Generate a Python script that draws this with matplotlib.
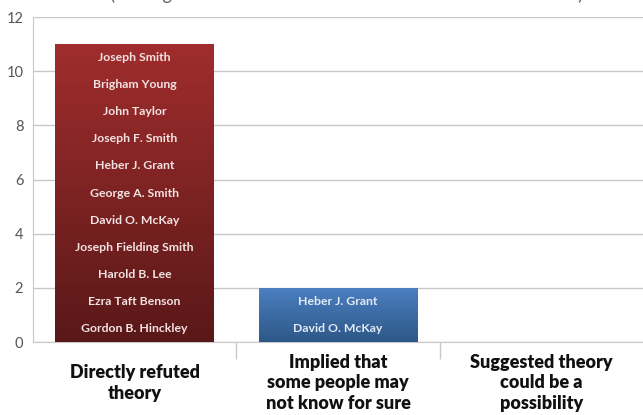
import matplotlib
matplotlib.use("Agg")
import matplotlib.pyplot as plt
import numpy as np
from matplotlib.colors import LinearSegmentedColormap

categories = ["Directly refuted\ntheory",
              "Implied that\nsome people may\nnot know for sure",
              "Suggested theory\ncould be a\npossibility"]
counts = [11, 2, 0]
names = [
    ["Joseph Smith", "Brigham Young", "John Taylor", "Joseph F. Smith",
     "Heber J. Grant", "George A. Smith", "David O. McKay",
     "Joseph Fielding Smith", "Harold B. Lee", "Ezra Taft Benson",
     "Gordon B. Hinckley"],
    ["Heber J. Grant", "David O. McKay"],
    [],
]
yticks = [0, 2, 4, 6, 8, 10, 12]
title = "(on Organic Evolution as it relates to the Creation of Man)"

grad_colors = [("#5a1818", "#a02d2d"), ("#2d5787", "#4c80c2"), ("#888888", "#aaaaaa")]
text_colors = ["#f3e2e2", "#e3ebf6", "#ffffff"]

plt.rcParams['font.family'] = ['Lato', 'DejaVu Sans']

fig = plt.figure(figsize=(6.43, 4.15), dpi=100)
ax = fig.add_axes([33/643, 73/415, 610/643, 325/415])

x = np.arange(len(categories))
width = 0.78
bars = ax.bar(x, counts, width=width, color="none", edgecolor="none", zorder=3)

for i, (b, c) in enumerate(zip(bars, counts)):
    if c <= 0:
        continue
    cmap = LinearSegmentedColormap.from_list("g%d" % i, list(grad_colors[i]))
    grad = np.linspace(0, 1, 256).reshape(-1, 1)
    x0 = b.get_x()
    im = ax.imshow(grad, extent=[x0, x0 + b.get_width(), 0, c], origin="lower",
                   cmap=cmap, aspect="auto", zorder=3)
    im.set_clip_path(b)
    lst = names[i]
    n = len(lst)
    for k, nm in enumerate(lst):
        ax.text(x[i], n - k - 0.5, nm, ha="center", va="center",
                fontsize=8.8, fontweight="bold", color=text_colors[i], zorder=4)

ax.set_xlim(-0.5, len(categories) - 0.5)
ax.set_ylim(0, 12)
ax.set_yticks(yticks)
ax.set_yticklabels([str(t) for t in yticks])
ax.tick_params(axis="y", length=0, pad=7, labelsize=10.5, labelcolor="#555555")
ax.yaxis.grid(True, color="#c8c8c8", linewidth=1.0, zorder=0)
ax.set_axisbelow(True)

ax.set_xticks(x)
ax.set_xticklabels(categories, fontsize=13, fontweight="heavy", color="#111111",
                   linespacing=1.27)
for lab in ax.get_xticklabels():
    lab.set_verticalalignment("center")
ax.tick_params(axis="x", which="major", length=0, pad=29.5)
ax.set_xticks([0.5, 1.5], minor=True)
ax.tick_params(axis="x", which="minor", length=12, width=1, color="#c8c8c8", direction="out")

for s in ["top", "right"]:
    ax.spines[s].set_visible(False)
ax.spines["left"].set_color("#c8c8c8")
ax.spines["bottom"].set_color("#c8c8c8")

fig.text(347/643, 415.5/415, title, ha="center", va="baseline",
         fontsize=13.4, color="#666666")

fig.savefig("out.png", dpi=100)
